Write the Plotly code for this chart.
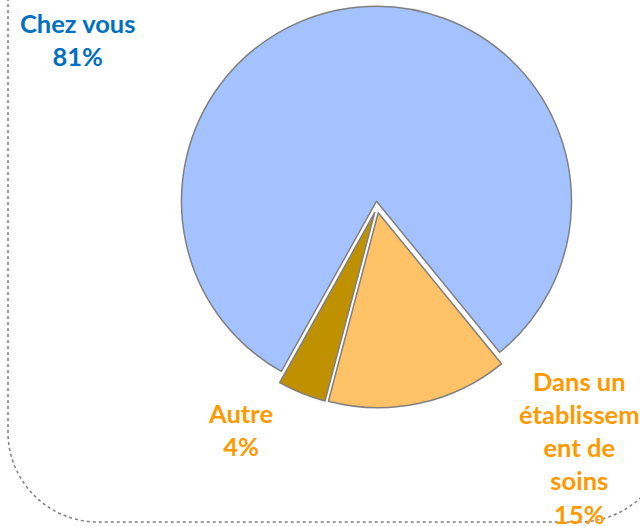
import plotly.graph_objects as go

# ---- data ----
categories = ["Chez vous", "Dans un établissement de soins", "Autre"]
display_labels = ["Chez vous", "Dans un<br>établissem<br>ent de<br>soins", "Autre"]
values = [81, 15, 4]
slice_colors = ["#A4C2FF", "#FFC266", "#BF9000"]
label_colors = ["#0070C0", "#FF9900", "#FF9900"]

W, H = 640, 526

# pie geometry (pixels)
cx, cy, r, pull = 377.0, 207.0, 195.0, 0.03
half = r * (1 + pull)
dom_x = [(cx - half) / W, (cx + half) / W]
dom_y = [(H - cy - half) / H, (H - cy + half) / H]

fig = go.Figure()
fig.add_trace(go.Pie(
    labels=categories,
    values=values,
    sort=False,
    direction="clockwise",
    rotation=209.2,
    pull=[pull] * len(values),
    marker=dict(colors=slice_colors, line=dict(color="#808080", width=1.5)),
    textinfo="none",
    hoverinfo="label+percent",
    showlegend=False,
    domain=dict(x=dom_x, y=dom_y),
))

# label positions (pixels: x centre, y centre)
label_pos = [(77, 40), (579, 447), (240, 429)]
total = sum(values)
for name, v, col, (px, py) in zip(display_labels, values, label_colors, label_pos):
    pct = round(100 * v / total)
    fig.add_annotation(
        x=px / W, y=1 - py / H, xref="paper", yref="paper",
        text=f"{name}<br>{pct}%", showarrow=False,
        xanchor="center", yanchor="middle", align="center",
        font=dict(family="Lato", size=25.5, color=col, weight="bold"),
    )

# dotted rounded border (pixels)
L, B, R, rad = 8, 522, 669, 90
k = 0.5523 * rad
def P(x, y):
    return f"{x / W:.5f},{1 - y / H:.5f}"
path = (f"M {P(L, -20)} L {P(L, B - rad)} "
        f"C {P(L, B - rad + k)} {P(L + rad - k, B)} {P(L + rad, B)} "
        f"L {P(R - rad, B)} "
        f"C {P(R - rad + k, B)} {P(R, B - rad + k)} {P(R, B - rad)} "
        f"L {P(R, -20)}")
fig.add_shape(type="path", path=path, xref="paper", yref="paper",
              line=dict(color="#7F7F7F", width=1.5, dash="dot"))

fig.update_layout(
    width=W, height=H,
    margin=dict(l=0, r=0, t=0, b=0),
    paper_bgcolor="white", plot_bgcolor="white",
)

fig.write_html(
    "out.html",
    config={"displayModeBar": False},
    post_script="document.body.style.margin='0';document.body.style.overflow='hidden';",
)
